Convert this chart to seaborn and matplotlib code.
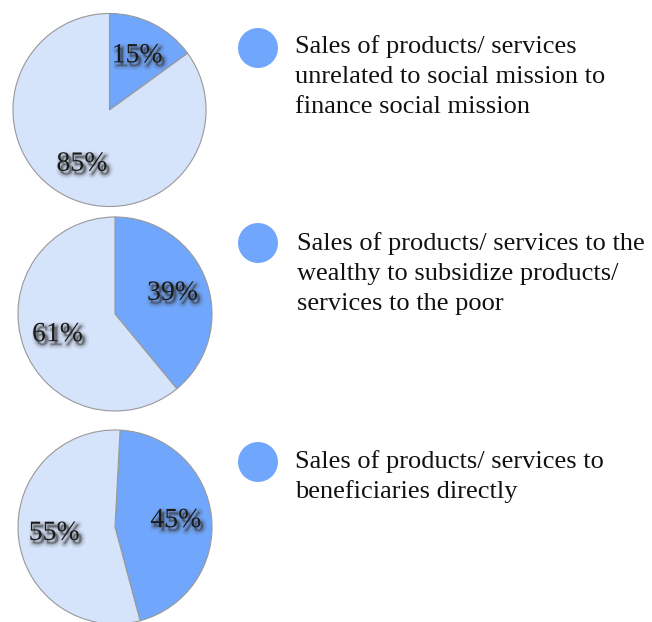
import matplotlib
matplotlib.use("Agg")
import matplotlib.pyplot as plt
import matplotlib.patheffects as pe
from matplotlib.patches import Circle
import seaborn as sns

sns.set_theme(style="white")
plt.rcParams['font.family'] = ['Liberation Serif', 'DejaVu Serif']

# ============================
# Data
# ============================
mission_share = [15, 39, 45]          # dark slice (%)
other_share = [85, 61, 55]            # light slice (%)
start_angles = [90, 90, 87]
legend_lines = [
    ["Sales of products/ services",
     "unrelated to social mission to",
     "finance social mission"],
    ["Sales of products/ services to the",
     "wealthy to subsidize products/",
     "services to the poor"],
    ["Sales of products/ services to",
     "beneficiaries directly"],
]

dark = "#70a6fb"
light = "#d5e3fb"

W, H = 652, 622
fig = plt.figure(figsize=(W / 100, H / 100), dpi=100)

# pie centres / radius in pixels, legend dot + text anchors
pie_pos = [(109.5, 110, 97.5), (115, 314, 98), (115, 527, 98)]
dot_pos = [(258, 48), (258, 243), (258, 462)]
text_pos = [(295, 53), (297, 250), (295, 468)]
line_gap = 30

# soft blurred drop shadow under the percent labels
shadow = [pe.Stroke(offset=(2, -2.5), linewidth=6, foreground="#444444", alpha=0.08),
          pe.Stroke(offset=(2, -2.5), linewidth=3.5, foreground="#444444", alpha=0.15),
          pe.Stroke(offset=(2, -2.5), linewidth=1.5, foreground="#444444", alpha=0.25),
          pe.Normal()]

for i in range(3):
    cx, cy, r = pie_pos[i]
    ax = fig.add_axes([(cx - r) / W, 1 - (cy + r) / H, 2 * r / W, 2 * r / H])
    wedges, texts, autotexts = ax.pie(
        [mission_share[i], other_share[i]],
        colors=[dark, light],
        startangle=start_angles[i],
        counterclock=False,
        autopct="%.0f%%",
        pctdistance=0.63,
        radius=1,
        wedgeprops=dict(edgecolor="#999999", linewidth=0.8),
        textprops=dict(fontsize=20, color="#1a1a1a"),
    )
    for t in autotexts:
        t.set_path_effects(shadow)
    ax.set_xlim(-1.01, 1.01)
    ax.set_ylim(-1.01, 1.01)
    ax.set_aspect("equal")
    ax.axis("off")

    # legend dot
    dx, dy = dot_pos[i]
    fig.patches.append(Circle((dx, H - dy), 20, transform=None,
                              facecolor=dark, edgecolor="none"))
    # legend text
    tx, ty = text_pos[i]
    for j, line in enumerate(legend_lines[i]):
        fig.text(tx / W, 1 - (ty + j * line_gap) / H, line,
                 fontsize=19, color="#111111", va="baseline", ha="left")

fig.savefig("out.png", dpi=100, facecolor="white")
